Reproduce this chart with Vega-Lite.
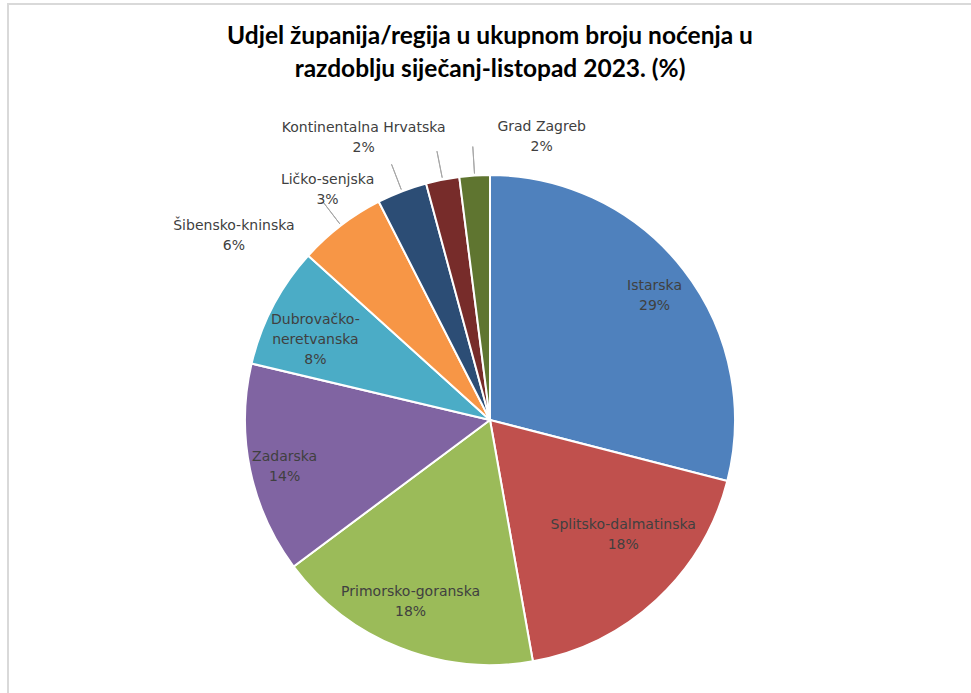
{
  "$schema": "https://vega.github.io/schema/vega-lite/v6.json",
  "width": 964,
  "height": 832,
  "autosize": {"type": "none"},
  "padding": {"left": 8, "top": 4, "right": -1, "bottom": -143},
  "background": "white",
  "view": {"stroke": "#d9d9d9", "strokeWidth": 2, "fill": "white"},
  "title": {
    "text": ["Udjel županija/regija u ukupnom broju noćenja u", "razdoblju siječanj-listopad 2023. (%)"],
    "font": "Lato",
    "fontSize": 24.5,
    "fontWeight": "bold",
    "color": "#000000",
    "lineHeight": 33,
    "anchor": "middle",
    "offset": -78
  },
  "data": {
    "values": [
      {"ord": 1, "name": "Istarska", "value": 29.0, "label": "Istarska\n29%"},
      {"ord": 2, "name": "Splitsko-dalmatinska", "value": 18.2, "label": "Splitsko-dalmatinska\n18%"},
      {"ord": 3, "name": "Primorsko-goranska", "value": 17.6, "label": "Primorsko-goranska\n18%"},
      {"ord": 4, "name": "Zadarska", "value": 13.9, "label": "Zadarska\n14%"},
      {"ord": 5, "name": "Dubrovačko-neretvanska", "value": 8.0, "label": "Dubrovačko-\nneretvanska\n8%"},
      {"ord": 6, "name": "Šibensko-kninska", "value": 5.8, "label": "Šibensko-kninska\n6%"},
      {"ord": 7, "name": "Ličko-senjska", "value": 3.3, "label": "Ličko-senjska\n3%"},
      {"ord": 8, "name": "Kontinentalna Hrvatska", "value": 2.2, "label": "Kontinentalna Hrvatska\n2%"},
      {"ord": 9, "name": "Grad Zagreb", "value": 2.0, "label": "Grad Zagreb\n2%"}
    ]
  },
  "encoding": {
    "theta": {"field": "value", "type": "quantitative", "stack": true},
    "order": {"field": "ord", "type": "quantitative"}
  },
  "layer": [
    {
      "mark": {"type": "arc", "radius": 245, "stroke": "white", "strokeWidth": 2},
      "encoding": {
        "color": {
          "field": "name",
          "type": "nominal",
          "scale": {
            "domain": ["Istarska", "Splitsko-dalmatinska", "Primorsko-goranska", "Zadarska", "Dubrovačko-neretvanska", "Šibensko-kninska", "Ličko-senjska", "Kontinentalna Hrvatska", "Grad Zagreb"],
            "range": ["#4F81BD", "#C0504D", "#9BBB59", "#8064A2", "#4BACC6", "#F79646", "#2C4D75", "#772C2A", "#5F7530"]
          },
          "legend": null
        }
      }
    },
    {
      "mark": {"type": "arc", "radius": 274, "radius2": 247, "padAngle": 0.5, "fillOpacity": 0, "stroke": "#a6a6a6", "strokeWidth": 1},
      "encoding": {
        "strokeOpacity": {"condition": {"test": "datum.ord >= 6", "value": 1}, "value": 0}
      }
    },
    {
      "mark": {"type": "text", "radius": 207, "dx": 1, "dy": -7},
      "encoding": {"text": {"condition": {"test": "datum.name === 'Istarska'", "field": "label"}, "value": ""}}
    },
    {
      "mark": {"type": "text", "radius": 165, "dx": 21, "dy": -16},
      "encoding": {"text": {"condition": {"test": "datum.name === 'Splitsko-dalmatinska'", "field": "label"}, "value": ""}}
    },
    {
      "mark": {"type": "text", "radius": 194, "dx": -8, "dy": -8},
      "encoding": {"text": {"condition": {"test": "datum.name === 'Primorsko-goranska'", "field": "label"}, "value": ""}}
    },
    {
      "mark": {"type": "text", "radius": 223, "dx": 13, "dy": -8},
      "encoding": {"text": {"condition": {"test": "datum.name === 'Zadarska'", "field": "label"}, "value": ""}}
    },
    {
      "mark": {"type": "text", "radius": 195, "dx": -2, "dy": -9},
      "encoding": {"text": {"condition": {"test": "datum.name === 'Dubrovačko-neretvanska'", "field": "label"}, "value": ""}}
    },
    {
      "mark": {"type": "text", "radius": 260, "dx": -98, "dy": 12},
      "encoding": {"text": {"condition": {"test": "datum.name === 'Šibensko-kninska'", "field": "label"}, "value": ""}}
    },
    {
      "mark": {"type": "text", "radius": 260, "dx": -69, "dy": 3},
      "encoding": {"text": {"condition": {"test": "datum.name === 'Ličko-senjska'", "field": "label"}, "value": ""}}
    },
    {
      "mark": {"type": "text", "radius": 260, "dx": -76, "dy": -37},
      "encoding": {"text": {"condition": {"test": "datum.name === 'Kontinentalna Hrvatska'", "field": "label"}, "value": ""}}
    },
    {
      "mark": {"type": "text", "radius": 260, "dx": 68, "dy": -34},
      "encoding": {"text": {"condition": {"test": "datum.name === 'Grad Zagreb'", "field": "label"}, "value": ""}}
    }
  ],
  "config": {
    "view": {"stroke": "#d9d9d9", "strokeWidth": 2},
    "text": {"font": "DejaVu Sans", "fontSize": 14, "color": "#404040", "align": "center", "baseline": "middle", "lineBreak": "\n", "lineHeight": 20}
  }
}
